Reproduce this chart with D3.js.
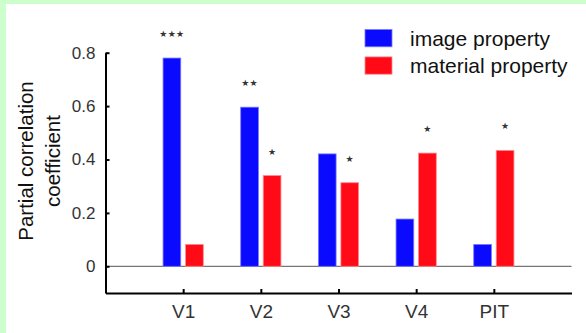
<!DOCTYPE html>
<html lang="en">
<head>
<meta charset="UTF-8">
<title>Partial correlation</title>
<script src="https://d3js.org/d3.v7.min.js"></script>
<style>
    body { margin: 0; background: #ccffcc; }
    #chart { position: absolute; left: 6px; top: 4px; width: 580px; height: 329px; background: #fff; }
    svg { position: absolute; left: -6px; top: -4px; }
</style>
</head>
<body>
<div id="chart"></div>
<script>
    const width = 586, height = 333;

    // data
    const areas = ["V1", "V2", "V3", "V4", "PIT"];
    const imageValues = [0.78, 0.596, 0.421, 0.177, 0.082];
    const materialValues = [0.082, 0.34, 0.313, 0.424, 0.434];
    const imageStars = ["***", "**", "", "", ""];
    const materialStars = ["", "*", "*", "*", "*"];
    const yTicks = [0, 0.2, 0.4, 0.6, 0.8];
    const seriesNames = ["image property", "material property"];
    const colors = ["#0a0aff", "#ff0a16"];

    const svg = d3.select("#chart").append("svg")
        .attr("width", width)
        .attr("height", height)
        .style("font-family", "'Liberation Sans', Arial, sans-serif");

    const x = d3.scaleLinear().domain([0, 6]).range([105.5, 571.5]);
    const y = d3.scaleLinear().domain([-0.1, 0.8]).range([293, 52.7]);

    const barW = (x(1) - x(0)) * 0.228;
    const off = (x(1) - x(0)) * 0.145;

    // zero line
    svg.append("line")
        .attr("x1", x(0)).attr("x2", x(6))
        .attr("y1", y(0)).attr("y2", y(0))
        .attr("stroke", "#555").attr("stroke-width", 1);

    const series = [imageValues, materialValues];
    const stars = [imageStars, materialStars];

    series.forEach((vals, s) => {
        const cx = i => x(i + 1) + (s === 0 ? -off : off);
        svg.append("g").selectAll("rect")
            .data(vals)
            .enter().append("rect")
            .attr("x", (d, i) => cx(i) - barW / 2)
            .attr("y", d => y(d))
            .attr("width", barW)
            .attr("height", d => y(0) - y(d))
            .attr("fill", colors[s])
            .attr("stroke", s === 0 ? "#7a7aff" : "#ff8a90")
            .attr("stroke-width", 0.8);

        svg.append("g").selectAll("text")
            .data(vals)
            .enter().append("text")
            .attr("x", (d, i) => cx(i))
            .attr("y", d => y(d) - 21)
            .attr("text-anchor", "middle")
            .attr("font-family", "DejaVu Sans, sans-serif")
            .attr("font-size", 9)
            .attr("letter-spacing", 0.3)
            .attr("fill", "#333")
            .text((d, i) => stars[s][i].replace(/\*/g, "★"));
    });

    // y axis
    const yAxis = svg.append("g")
        .attr("transform", `translate(${x(0)},0)`)
        .call(d3.axisLeft(y).tickValues(yTicks).tickSize(-4).tickSizeOuter(0).tickPadding(10)
            .tickFormat(d => d === 0 ? "0" : d3.format(".1f")(d)));
    yAxis.select(".domain").attr("stroke", "#000").attr("stroke-width", 2);
    yAxis.selectAll(".tick line").attr("stroke", "#000").attr("stroke-width", 2);
    yAxis.selectAll(".tick text")
        .attr("font-family", "'Liberation Sans', Arial, sans-serif")
        .attr("font-size", 17).attr("fill", "#333");

    // x axis
    const xAxis = svg.append("g")
        .attr("transform", `translate(0,${y(-0.1)})`)
        .call(d3.axisBottom(x).tickValues([1, 2, 3, 4, 5]).tickSize(-4).tickSizeOuter(0).tickPadding(12)
            .tickFormat(d => areas[d - 1]));
    xAxis.select(".domain").attr("stroke", "#000").attr("stroke-width", 2);
    xAxis.selectAll(".tick line").attr("stroke", "#000").attr("stroke-width", 2);
    xAxis.selectAll(".tick text")
        .attr("font-family", "'Liberation Sans', Arial, sans-serif")
        .attr("font-size", 19).attr("fill", "#333");

    // y label
    const yl = svg.append("text")
        .attr("transform", "translate(33,161) rotate(-90)")
        .attr("text-anchor", "middle")
        .attr("font-size", 20.5)
        .attr("fill", "#111");
    yl.append("tspan").attr("x", 0).attr("y", 0).text("Partial correlation");
    yl.append("tspan").attr("x", 0).attr("y", 27).text("coefficient");

    // legend
    const legend = svg.append("g").attr("transform", "translate(365,29.5)");
    seriesNames.forEach((name, i) => {
        legend.append("rect")
            .attr("x", 0).attr("y", i * 27.4)
            .attr("width", 27).attr("height", 17.3)
            .attr("fill", colors[i])
            .attr("stroke", i === 0 ? "#7a7aff" : "#ff8a90")
            .attr("stroke-width", 0.8);
        legend.append("text")
            .attr("x", 45).attr("y", i * 27.4 + 16)
            .attr("font-size", 21)
            .attr("fill", "#111")
            .text(name);
    });
</script>
</body>
</html>
